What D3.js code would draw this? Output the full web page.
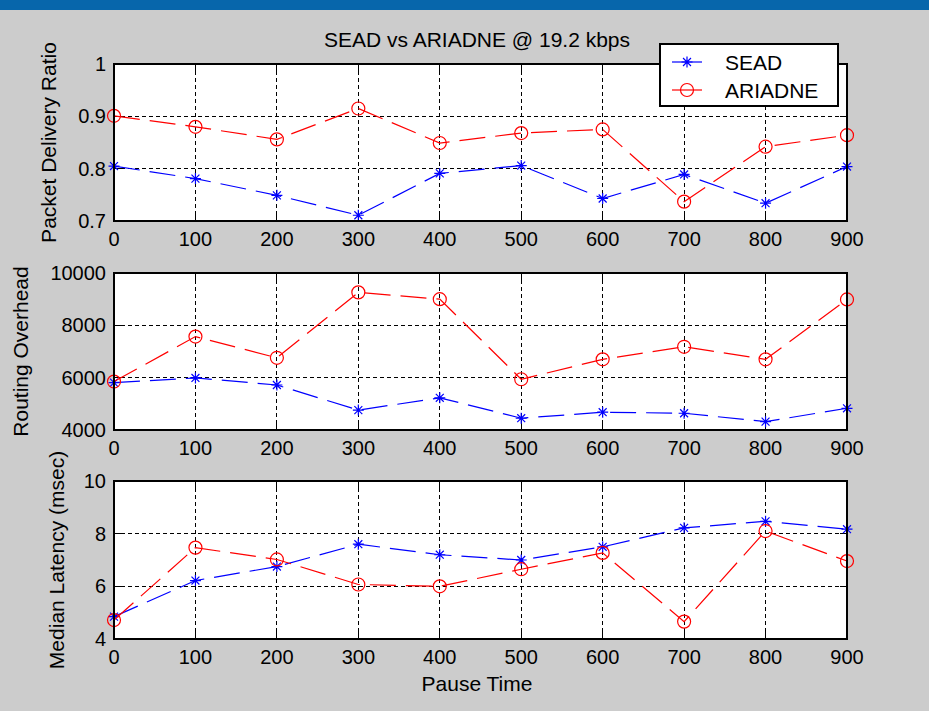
<!DOCTYPE html>
<html>
<head>
<meta charset="utf-8">
<script src="https://cdn.jsdelivr.net/npm/d3@7/dist/d3.min.js"></script>
<style>
body{margin:0;padding:0;background:#cccccc;}
svg text{font-family:"Liberation Sans",Arial,sans-serif;fill:#000;}
</style>
</head>
<body>
<svg id="Chart" width="929" height="711"></svg>
<script>
// pause time, x axis of all three panels
var pauseTime = [0, 100, 200, 300, 400, 500, 600, 700, 800, 900];
var xTicks = [0, 100, 200, 300, 400, 500, 600, 700, 800, 900];

// packet delivery ratio
var pdrSead    = [0.805, 0.781, 0.749, 0.711, 0.791, 0.806, 0.743, 0.789, 0.734, 0.804];
var pdrAriadne = [0.901, 0.880, 0.856, 0.915, 0.849, 0.868, 0.875, 0.737, 0.842, 0.864];
var pdrTicks   = [0.7, 0.8, 0.9, 1];

// routing overhead
var ohSead    = [5810, 5990, 5720, 4760, 5230, 4450, 4680, 4640, 4320, 4830];
var ohAriadne = [5850, 7570, 6760, 9260, 9000, 5940, 6700, 7180, 6700, 8990];
var ohTicks   = [4000, 6000, 8000, 10000];

// median latency (msec)
var latSead    = [4.85, 6.22, 6.75, 7.60, 7.20, 7.00, 7.50, 8.22, 8.47, 8.17];
var latAriadne = [4.72, 7.47, 7.02, 6.07, 6.00, 6.65, 7.27, 4.66, 8.10, 6.96];
var latTicks   = [4, 6, 8, 10];

var seriesNames = ["SEAD", "ARIADNE"];
var seriesColors = ["#0000ff", "#ff0000"];

var svg = d3.select("#Chart");
var left = 114, right = 847;

svg.append("rect").attr("x", 0).attr("y", 0).attr("width", 929).attr("height", 711).style("fill", "#cccccc");
svg.append("rect").attr("x", 0).attr("y", 0).attr("width", 929).attr("height", 10).style("fill", "#0766ab");

var x = d3.scaleLinear().domain([0, 900]).range([left, right]);

function drawStar(g, cx, cy, color){
	var s = 5.5;
	g.append("path")
	.attr("d", "M" + (cx - s) + "," + cy + "H" + (cx + s) +
		"M" + cx + "," + (cy - s) + "V" + (cy + s) +
		"M" + (cx - s * 0.72) + "," + (cy - s * 0.72) + "L" + (cx + s * 0.72) + "," + (cy + s * 0.72) +
		"M" + (cx - s * 0.72) + "," + (cy + s * 0.72) + "L" + (cx + s * 0.72) + "," + (cy - s * 0.72))
	.style("stroke", color).style("stroke-width", 1.2).style("fill", "none");
}

function drawCircle(g, cx, cy, color){
	g.append("circle").attr("cx", cx).attr("cy", cy).attr("r", 6.5)
	.style("stroke", color).style("stroke-width", 1.2).style("fill", "none");
}

function drawPanel(top, bottom, domain, ticks, sead, ariadne, label, labelX, fmt){
	var y = d3.scaleLinear().domain(domain).range([bottom, top]);
	var g = svg.append("g");

	g.append("rect").attr("x", left).attr("y", top)
	.attr("width", right - left).attr("height", bottom - top)
	.style("fill", "#ffffff");

	// dashed grid
	g.selectAll(".gx").data(xTicks).enter().append("line")
	.attr("x1", function(d){ return x(d); }).attr("x2", function(d){ return x(d); })
	.attr("y1", top).attr("y2", bottom)
	.attr("shape-rendering", "crispEdges")
	.style("stroke", "#000").style("stroke-dasharray", "4,3");
	g.selectAll(".gy").data(ticks).enter().append("line")
	.attr("x1", left).attr("x2", right)
	.attr("y1", function(d){ return y(d); }).attr("y2", function(d){ return y(d); })
	.attr("shape-rendering", "crispEdges")
	.style("stroke", "#000").style("stroke-dasharray", "4,3");

	// inward ticks
	var tl = 7;
	g.selectAll(".tb").data(xTicks).enter().append("path")
	.attr("d", function(d){ return "M" + x(d) + "," + bottom + "v" + (-tl) + "M" + x(d) + "," + top + "v" + tl; })
	.attr("shape-rendering", "crispEdges")
	.style("stroke", "#000");
	g.selectAll(".tl").data(ticks).enter().append("path")
	.attr("d", function(d){ return "M" + left + "," + y(d) + "h" + tl + "M" + right + "," + y(d) + "h" + (-tl); })
	.attr("shape-rendering", "crispEdges")
	.style("stroke", "#000");

	var line = d3.line()
	.x(function(d, i){ return x(pauseTime[i]); })
	.y(function(d){ return y(d); });

	[sead, ariadne].forEach(function(vals, k){
		g.append("path").datum(vals).attr("d", line)
		.style("fill", "none").style("stroke", seriesColors[k])
		.style("stroke-width", 1.2).style("stroke-dasharray", "26,10");
		vals.forEach(function(v, i){
			if(k == 0) drawStar(g, x(pauseTime[i]), y(v), seriesColors[k]);
			else drawCircle(g, x(pauseTime[i]), y(v), seriesColors[k]);
		});
	});

	g.append("rect").attr("x", left).attr("y", top)
	.attr("width", right - left).attr("height", bottom - top)
	.attr("shape-rendering", "crispEdges")
	.style("fill", "none").style("stroke", "#000").style("stroke-width", 1.5);

	// tick labels
	g.selectAll(".xl").data(xTicks).enter().append("text")
	.attr("x", function(d){ return x(d); }).attr("y", bottom + 25)
	.attr("text-anchor", "middle").style("font-size", "20px")
	.text(function(d){ return d; });
	g.selectAll(".yl").data(ticks).enter().append("text")
	.attr("x", left - 8).attr("y", function(d){ return y(d) + 7; })
	.attr("text-anchor", "end").style("font-size", "20px")
	.text(fmt);

	g.append("text")
	.attr("transform", "translate(" + labelX + "," + ((top + bottom) / 2) + ") rotate(-90)")
	.attr("text-anchor", "middle").style("font-size", "21px")
	.text(label);
}

drawPanel(64, 221, [0.7, 1], pdrTicks, pdrSead, pdrAriadne, "Packet Delivery Ratio", 56, function(d){ return d; });
drawPanel(273, 430, [4000, 10000], ohTicks, ohSead, ohAriadne, "Routing Overhead", 28, function(d){ return d; });
drawPanel(481, 639, [4, 10], latTicks, latSead, latAriadne, "Median Latency (msec)", 64, function(d){ return d; });

svg.append("text").attr("x", 477).attr("y", 47).attr("text-anchor", "middle")
.style("font-size", "21px").text("SEAD vs ARIADNE @ 19.2 kbps");

svg.append("text").attr("x", 477).attr("y", 691).attr("text-anchor", "middle")
.style("font-size", "21px").text("Pause Time");

// legend
var lg = svg.append("g");
lg.append("rect").attr("x", 660).attr("y", 44).attr("width", 178).attr("height", 62)
.attr("shape-rendering", "crispEdges")
.style("fill", "#ffffff").style("stroke", "#000").style("stroke-width", 1.5);
seriesNames.forEach(function(name, k){
	var ly = 62 + k * 28;
	lg.append("line").attr("x1", 672).attr("x2", 702).attr("y1", ly).attr("y2", ly)
	.style("stroke", seriesColors[k]).style("stroke-width", 1.2);
	if(k == 0) drawStar(lg, 687, ly, seriesColors[k]);
	else drawCircle(lg, 687, ly, seriesColors[k]);
	lg.append("text").attr("x", 725).attr("y", ly + 7.5).style("font-size", "21px").text(name);
});
</script>
</body>
</html>
